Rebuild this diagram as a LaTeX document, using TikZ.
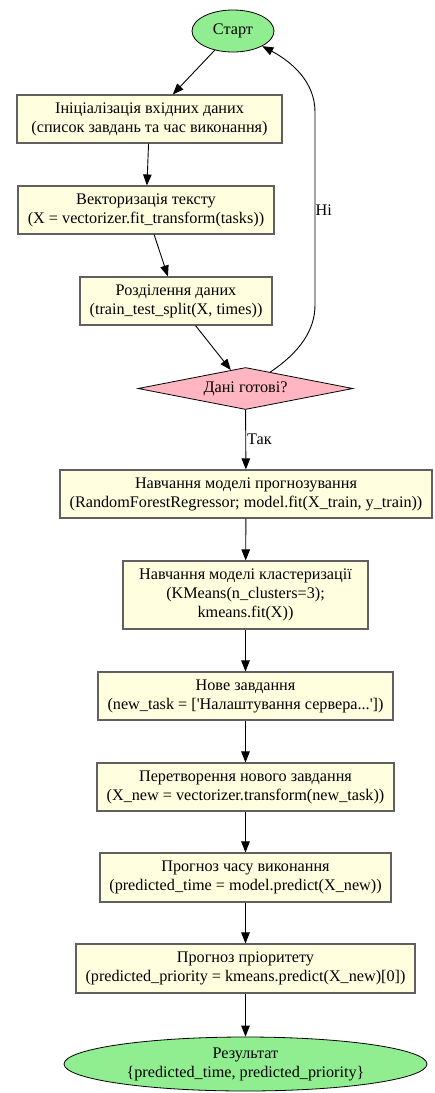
\documentclass[tikz,border=0pt]{standalone}
\usepackage{fontspec}
\setmainfont{Liberation Serif}
\usetikzlibrary{arrows.meta,shapes.geometric,calc}
\definecolor{boxfill}{HTML}{FFFFE0}
\definecolor{boxline}{HTML}{606060}
\definecolor{termfill}{HTML}{90EE90}
\definecolor{decfill}{HTML}{FFB6C1}
\tikzset{
  every node/.style={font=\fontsize{16.2}{19}\selectfont, align=center, inner sep=0pt},
  procbox/.style={draw=boxline, line width=1.1pt, fill=boxfill, rectangle},
  term/.style={draw=black, line width=0.8pt, fill=termfill, ellipse},
  decision/.style={draw=black, line width=0.8pt, fill=decfill, diamond, aspect=5.1},
  flow/.style={draw=black, line width=0.9pt, -{Triangle[length=11pt,width=8.5pt]}},
  elabel/.style={font=\fontsize{16.2}{18}\selectfont}
}
\begin{document}
\begin{tikzpicture}[x=1pt,y=1pt]
\useasboundingbox (0,0) rectangle (435,-1093);
\node[term, minimum width=82pt, minimum height=42pt] (st) at (233,-31) {Старт};
\node[procbox, minimum width=265pt, minimum height=48pt] (b1) at (149.5,-119) {Ініціалізація вхідних даних\\(список завдань та час виконання)};
\node[procbox, minimum width=256pt, minimum height=48pt] (b2) at (146,-210) {Векторизація тексту\\(X = vectorizer.fit\_transform(tasks))};
\node[procbox, minimum width=192pt, minimum height=48pt] (b3) at (176,-301) {Розділення даних\\(train\_test\_split(X, times))};
\node[decision, minimum width=215pt, minimum height=42pt] (d) at (245.5,-388.5) {Дані готові?};
\node[procbox, minimum width=372pt, minimum height=48pt] (b4) at (246,-494) {Навчання моделі прогнозування\\(RandomForestRegressor; model.fit(X\_train, y\_train))};
\node[procbox, minimum width=245pt, minimum height=68pt] (b5) at (245.5,-595) {Навчання моделі кластеризації\\(KMeans(n\_clusters=3);\\kmeans.fit(X))};
\node[procbox, minimum width=295pt, minimum height=48pt] (b6) at (245.5,-696) {Нове завдання\\(new\_task = [\textquotesingle Налаштування сервера...\textquotesingle])};
\node[procbox, minimum width=297pt, minimum height=48pt] (b7) at (245.5,-787) {Перетворення нового завдання\\(X\_new = vectorizer.transform(new\_task))};
\node[procbox, minimum width=291pt, minimum height=49pt] (b8) at (245.5,-877.5) {Прогноз часу виконання\\(predicted\_time = model.predict(X\_new))};
\node[procbox, minimum width=339pt, minimum height=49pt] (b9) at (245.5,-968.5) {Прогноз пріоритету\\(predicted\_priority = kmeans.predict(X\_new)[0])};
\node[term, minimum width=363pt, minimum height=54pt] (res) at (245.5,-1064) {Результат\\\{predicted\_time, predicted\_priority\}};

\draw[flow] (st) -- (b1);
\draw[flow] (b1) -- (b2);
\draw[flow] (b2) -- (b3);
\draw[flow] (b3) -- (d);
\draw[flow] (d) -- node[elabel, right=1pt, pos=0.5] (lyes) {Так} (b4);
\draw[flow] (b4) -- (b5);
\draw[flow] (b5) -- (b6);
\draw[flow] (b6) -- (b7);
\draw[flow] (b7) -- (b8);
\draw[flow] (b8) -- (b9);
\draw[flow] (b9) -- (res);
\coordinate (dne) at ($(d.north)!0.23!(d.east)$);
\coordinate (lp) at (315,-305);
\coordinate (up) at (315,-112);
\draw[flow] (dne) .. controls (300,-352) and (315,-330) .. (lp) -- (up) .. controls (315,-82) and (292,-62) .. (st.south east);
\node[elabel, anchor=west] (lno) at (315.5,-210) {Ні};
\end{tikzpicture}
\end{document}
